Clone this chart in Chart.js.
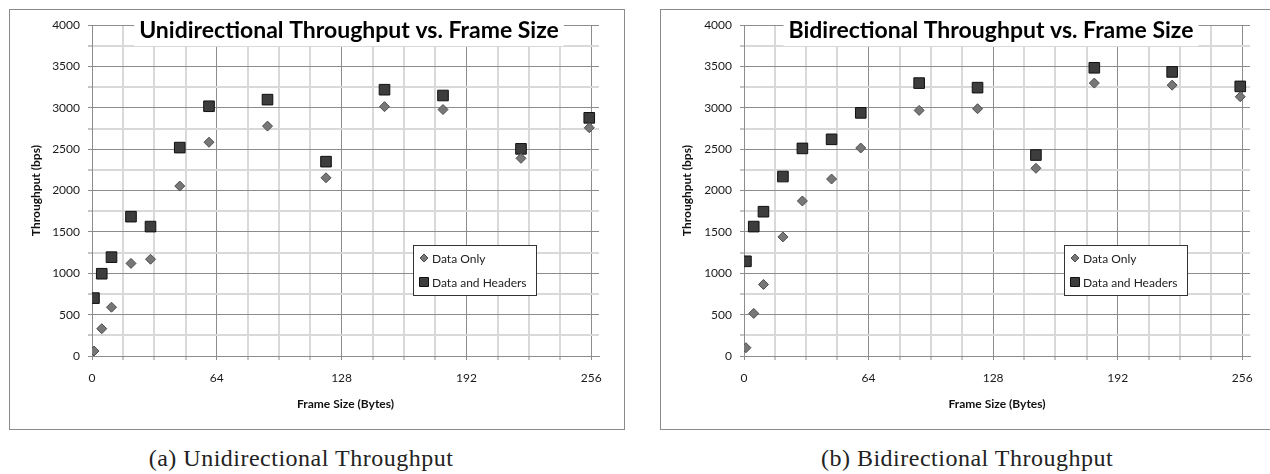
<!DOCTYPE html>
<html>
<head>
<meta charset="utf-8">
<script src="https://cdn.jsdelivr.net/npm/chart.js@4"></script>
<style>
  body { margin: 0; background: #fff; width: 1270px; height: 474px; overflow: hidden; position: relative; }
  .panel { position: absolute; border: 1px solid #8a8a8a; box-sizing: border-box; }
  canvas { position: absolute; }
  .caption { position: absolute; top: 446px; font-family: "Liberation Serif", serif; font-size: 24px; line-height: 1; letter-spacing: 0.5px; color: #222; transform: translateX(-50%); white-space: nowrap; }
</style>
</head>
<body>
<div class="panel" style="left:9px; top:9px; width:616px; height:421px;"></div>
<div class="panel" style="left:660px; top:9px; width:640px; height:421px;"></div>
<canvas id="uniChart" width="613" height="418" style="left:10px; top:10px;"></canvas>
<canvas id="biChart" width="609" height="418" style="left:661px; top:10px;"></canvas>
<div class="caption" style="left:301px;">(a) Unidirectional Throughput</div>
<div class="caption" style="left:967px;">(b) Bidirectional Throughput</div>

<script>
// Data
const frameSizes = [1, 5, 10, 20, 30, 45, 60, 90, 120, 150, 180, 220, 255];
const uniDataOnly = [60, 330, 590, 1120, 1170, 2055, 2585, 2780, 2155, 3015, 2980, 2390, 2760];
const uniDataHeaders = [700, 995, 1195, 1685, 1565, 2520, 3020, 3100, 2350, 3220, 3150, 2505, 2880];
const biDataOnly = [100, 515, 865, 1440, 1875, 2140, 2515, 2970, 2990, 2270, 3300, 3275, 3135];
const biDataHeaders = [1145, 1565, 1745, 2170, 2510, 2620, 2940, 3300, 3245, 2430, 3485, 3435, 3260];

const seriesLabels = ['Data Only', 'Data and Headers'];
const xTickLabels = [0, 64, 128, 192, 256];
const yTickLabels = [0, 500, 1000, 1500, 2000, 2500, 3000, 3500, 4000];

const MAJOR = '#8c8c8c';
const MINOR = '#d9d9d9';
const FONT = 'Lato, "Open Sans", sans-serif';

function toPoints(xs, ys) {
    return xs.map((x, i) => ({ x: x, y: ys[i] }));
}

// Titel aur legend chart ke andar draw karna (Excel style)
const panelDecor = {
    id: 'panelDecor',
    afterDraw(chart, args, opts) {
        const ctx = chart.ctx;
        ctx.save();
        ctx.font = 'bold 23px ' + FONT;
        const w = ctx.measureText(opts.title).width;
        ctx.fillStyle = '#fff';
        ctx.fillRect(opts.titleX - w / 2 - 5, 10, w + 10, 26);
        ctx.fillStyle = '#000';
        ctx.textAlign = 'center';
        ctx.textBaseline = 'alphabetic';
        ctx.fillText(opts.title, opts.titleX, 27.5);

        // legend box
        const lb = opts.legendBox;
        ctx.fillStyle = '#fff';
        ctx.fillRect(lb.x, lb.y, lb.w, lb.h);
        ctx.strokeStyle = '#333';
        ctx.lineWidth = 1;
        ctx.strokeRect(lb.x + 0.5, lb.y + 0.5, lb.w, lb.h);
        ctx.font = '12px ' + FONT;
        ctx.textAlign = 'left';
        ctx.textBaseline = 'middle';
        chart.data.datasets.forEach((ds, i) => {
            const mx = lb.x + 11;
            const my = lb.y + 13 + i * 24;
            ctx.fillStyle = ds.backgroundColor;
            ctx.strokeStyle = ds.borderColor;
            ctx.beginPath();
            if (ds.pointStyle === 'rectRot') {
                ctx.moveTo(mx, my - 4);
                ctx.lineTo(mx + 4, my);
                ctx.lineTo(mx, my + 4);
                ctx.lineTo(mx - 4, my);
                ctx.closePath();
            } else {
                ctx.rect(mx - 4.5, my - 4.5, 9, 9);
            }
            ctx.fill();
            ctx.stroke();
            ctx.fillStyle = '#222';
            ctx.fillText(ds.label, lb.x + 19, my + 1);
        });
        ctx.restore();
    }
};

function makeChart(id, onlyValues, headerValues, title, geom) {
    const ctx = document.getElementById(id).getContext('2d');
    return new Chart(ctx, {
        type: 'scatter',
        data: {
            datasets: [{
                label: seriesLabels[0],
                data: toPoints(frameSizes, onlyValues),
                pointStyle: 'rectRot',
                pointRadius: 5,
                pointHoverRadius: 5,
                backgroundColor: '#777777',
                borderColor: '#4d4d4d',
                borderWidth: 1
            }, {
                label: seriesLabels[1],
                data: toPoints(frameSizes, headerValues),
                pointStyle: 'rect',
                pointRadius: 7.5,
                pointHoverRadius: 7.5,
                backgroundColor: '#3d3d3d',
                borderColor: '#111111',
                borderWidth: 1
            }]
        },
        options: {
            responsive: false,
            animation: false,
            layout: { padding: { left: 0, top: 14, right: geom.padRight, bottom: 0 } },
            plugins: {
                legend: { display: false },
                tooltip: { enabled: false },
                panelDecor: { title: title, titleX: geom.titleX, legendBox: { x: 403, y: 235, w: 123, h: 50 } }
            },
            scales: {
                x: {
                    type: 'linear',
                    min: 0,
                    max: 260,
                    afterFit: s => { s.height = 72; },
                    ticks: {
                        stepSize: 16,
                        autoSkip: false,
                        includeBounds: false,
                        maxRotation: 0,
                        padding: 11,
                        color: '#1a1a1a',
                        font: { family: FONT, size: 12 },
                        callback: v => xTickLabels.includes(v) ? String(v) : ''
                    },
                    grid: {
                        color: c => (c.tick && c.tick.value % 64 === 0) ? MAJOR : MINOR,
                        lineWidth: c => (c.tick && c.tick.value % 64 === 0) ? 1 : 2,
                        tickColor: MAJOR,
                        tickLength: 4,
                        tickWidth: 1
                    },
                    border: { display: true, color: MAJOR, width: 1 },
                    title: {
                        display: true,
                        text: 'Frame Size (Bytes)',
                        color: '#111',
                        font: { family: FONT, size: 12, weight: 'bold' },
                        padding: { top: 0, bottom: 17 }
                    }
                },
                y: {
                    min: 0,
                    max: 4000,
                    afterFit: s => { s.width = geom.axisWidth; },
                    ticks: {
                        stepSize: 250,
                        autoSkip: false,
                        padding: 8,
                        color: '#1a1a1a',
                        font: { family: FONT, size: 12 },
                        callback: v => yTickLabels.includes(v) ? String(v) : ''
                    },
                    grid: {
                        color: c => (c.tick && c.tick.value % 500 === 0) ? MAJOR : MINOR,
                        lineWidth: c => (c.tick && c.tick.value % 500 === 0) ? 1 : 2,
                        tickColor: MAJOR,
                        tickLength: 4,
                        tickWidth: 1
                    },
                    border: { display: true, color: MAJOR, width: 1 },
                    title: {
                        display: true,
                        text: 'Throughput (bps)',
                        color: '#111',
                        font: { family: FONT, size: 12, weight: 'bold' },
                        padding: { top: 19, bottom: 0 }
                    }
                }
            }
        },
        plugins: [panelDecor]
    });
}

makeChart('uniChart', uniDataOnly, uniDataHeaders, 'Unidirectional Throughput vs. Frame Size',
    { axisWidth: 82, padRight: 24, titleX: 339 });
makeChart('biChart', biDataOnly, biDataHeaders, 'Bidirectional Throughput vs. Frame Size',
    { axisWidth: 83, padRight: 20, titleX: 330 });
</script>
</body>
</html>
